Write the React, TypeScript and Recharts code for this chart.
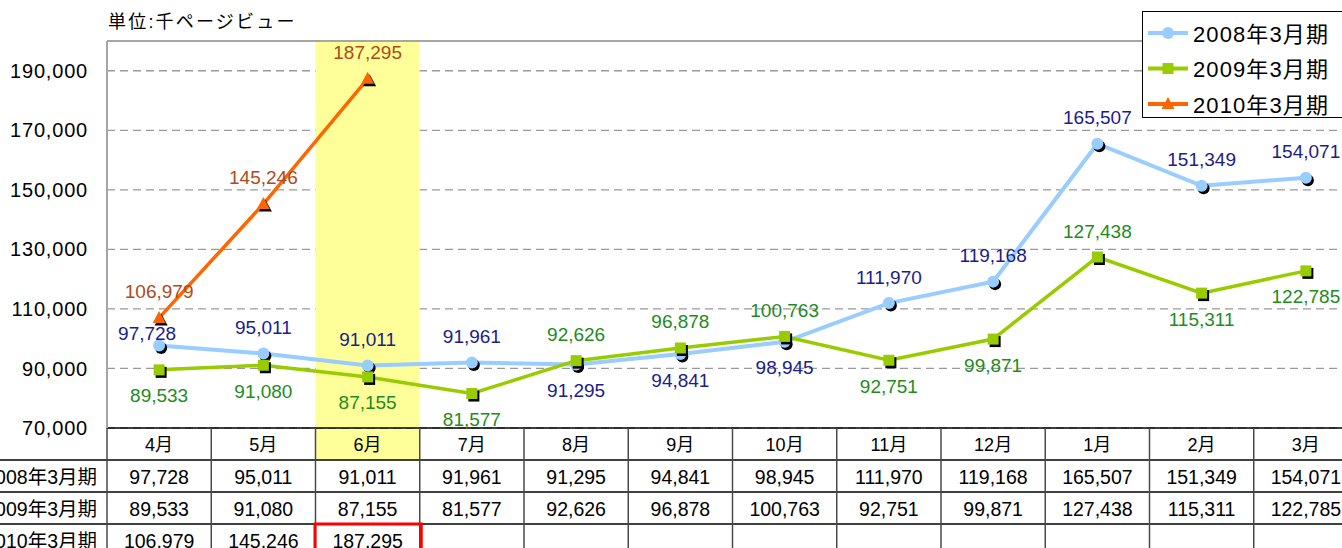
import React from 'react';
import {
  LineChart,
  Line,
  XAxis,
  YAxis,
  CartesianGrid,
  ReferenceArea,
  ReferenceLine,
  LabelList,
  Legend,
} from 'recharts';

// ---------- data ----------
const months = ['4月', '5月', '6月', '7月', '8月', '9月', '10月', '11月', '12月', '1月', '2月', '3月'];
const series2008 = [97728, 95011, 91011, 91961, 91295, 94841, 98945, 111970, 119168, 165507, 151349, 154071];
const series2009 = [89533, 91080, 87155, 81577, 92626, 96878, 100763, 92751, 99871, 127438, 115311, 122785];
const series2010: (number | null)[] = [106979, 145246, 187295, null, null, null, null, null, null, null, null, null];
const seriesNames = ['2008年3月期', '2009年3月期', '2010年3月期'];
const yTicks = [70000, 90000, 110000, 130000, 150000, 170000, 190000];
const yDomain = [70000, 200000];
const highlightMonth = '6月';
const unitTitle = '単位:千ページビュー';

// label placement (above / below point)
const place2008 = ['upLeft', 'up', 'up', 'up', 'down', 'down', 'down', 'up', 'up', 'up', 'up', 'up'];
const place2009 = ['down', 'down', 'down', 'down', 'up', 'up', 'up', 'down', 'down', 'up', 'down', 'down'];
const place2010 = ['up', 'up', 'up'];

// ---------- layout / style ----------
const FONT = "'Liberation Sans', Arial, 'Noto Sans CJK JP', sans-serif";
const CHART_W = 1358;
const CHART_H = 548;
const PLOT_LEFT = 107;
const PLOT_TOP = 41;
const PLOT_BOTTOM = 428;
const BAND = (CHART_W - PLOT_LEFT) / months.length;
const ROW_H = 32;

const C2008 = '#99CCFF';
const C2009 = '#99CC00';
const C2010 = '#FF6600';
const L2008 = '#1C1C8C';
const L2009 = '#1E8C1E';
const L2010 = '#B04A1A';

const fmt = (v: number) => v.toLocaleString('en-US');

const data = months.map((m, i) => ({
  month: m,
  s2008: series2008[i],
  s2009: series2009[i],
  s2010: series2010[i],
}));

const tableRows = [series2008, series2009, series2010];

const TableTick = (props: any) => {
  const { x, payload } = props;
  const i = months.indexOf(payload.value);
  const left = x - BAND / 2;
  const right = x + BAND / 2;
  const top = PLOT_BOTTOM;
  const hi = months.indexOf(highlightMonth);
  return (
    <g>
      {payload.value === highlightMonth && (
        <rect x={left} y={top + 1} width={BAND} height={ROW_H - 1} fill="#FFFF99" />
      )}
      {[1, 2, 3].map((r) => (
        <line
          key={`h${r}`}
          x1={i === 0 ? 0 : left}
          x2={right}
          y1={top + r * ROW_H}
          y2={top + r * ROW_H}
          stroke="#000"
          strokeWidth={1.5}
        />
      ))}
      <line x1={left} x2={left} y1={top} y2={top + 5 * ROW_H} stroke="#4a4a4a" strokeWidth={1.5} />
      <text
        x={x}
        y={top + ROW_H / 2 + 1}
        textAnchor="middle"
        dominantBaseline="central"
        fontSize={18}
        fontFamily={FONT}
        fill="#000"
      >
        {payload.value}
      </text>
      {tableRows.map((row, r) =>
        row[i] != null ? (
          <text
            key={`v${r}`}
            x={x}
            y={top + ROW_H * (r + 1) + ROW_H / 2 + 1}
            textAnchor="middle"
            dominantBaseline="central"
            fontSize={19.5}
            fontFamily={FONT}
            fill="#000"
          >
            {fmt(row[i] as number)}
          </text>
        ) : null
      )}
      {i === 0 &&
        seriesNames.map((n, r) => (
          <text
            key={`n${r}`}
            x={left - 10}
            y={top + ROW_H * (r + 1) + ROW_H / 2 + 1}
            textAnchor="end"
            dominantBaseline="central"
            fontSize={19.5}
            fontFamily={FONT}
            fill="#000"
          >
            {n}
          </text>
        ))}
      {i === months.length - 1 && (
        <rect
          x={left - (i - hi) * BAND - 0.5}
          y={top + 3 * ROW_H}
          width={BAND + 2}
          height={ROW_H + 10}
          fill="none"
          stroke="#FF0000"
          strokeWidth={3}
        />
      )}
    </g>
  );
};

const makeLabel = (place: string[], color: string) => (props: any) => {
  const { x, y, value, index } = props;
  if (value == null || x == null || y == null) return null;
  const p = place[index] || 'up';
  const dy = p === 'down' ? 26 : p === 'upLeft' ? -12 : -26;
  const dx = p === 'upLeft' ? -12 : 0;
  return (
    <text
      x={x + dx}
      y={y + dy}
      textAnchor="middle"
      dominantBaseline="central"
      fill={color}
      fontSize={19}
      fontFamily={FONT}
    >
      {fmt(value)}
    </text>
  );
};

const CircleDot = (props: any) => {
  const { cx, cy, index } = props;
  if (cx == null || cy == null) return <g key={`c${index}`} />;
  return (
    <g key={`c${index}`}>
      <circle cx={cx + 2} cy={cy + 2.5} r={6} fill="#000" />
      <circle cx={cx} cy={cy} r={6} fill={C2008} />
    </g>
  );
};

const SquareDot = (props: any) => {
  const { cx, cy, index } = props;
  if (cx == null || cy == null) return <g key={`s${index}`} />;
  return (
    <g key={`s${index}`}>
      <rect x={cx - 5.5 + 2} y={cy - 5.5 + 2.5} width={11} height={11} fill="#000" />
      <rect x={cx - 5.5} y={cy - 5.5} width={11} height={11} fill={C2009} />
    </g>
  );
};

const tri = (cx: number, cy: number) => `${cx},${cy - 7} ${cx + 6.5},${cy + 5} ${cx - 6.5},${cy + 5}`;

const TriangleDot = (props: any) => {
  const { cx, cy, index } = props;
  if (cx == null || cy == null) return <g key={`t${index}`} />;
  return (
    <g key={`t${index}`}>
      <polygon points={tri(cx + 2, cy + 2.5)} fill="#000" />
      <polygon points={tri(cx, cy)} fill={C2010} />
    </g>
  );
};

const legendMarkers = [
  (cx: number, cy: number) => <circle cx={cx} cy={cy} r={6} fill={C2008} />,
  (cx: number, cy: number) => <rect x={cx - 5.5} y={cy - 5.5} width={11} height={11} fill={C2009} />,
  (cx: number, cy: number) => <polygon points={tri(cx, cy)} fill={C2010} />,
];
const legendColors = [C2008, C2009, C2010];

const renderLegend = () => (
  <div
    style={{
      width: 230,
      height: 107,
      border: '1.5px solid #000',
      background: '#fff',
      boxSizing: 'border-box',
    }}
  >
    <svg width={230} height={104} style={{ display: 'block' }}>
      {seriesNames.map((n, i) => {
        const cy = 21 + i * 35.5;
        return (
          <g key={n}>
            <line x1={5} x2={45} y1={cy} y2={cy} stroke={legendColors[i]} strokeWidth={4} />
            {legendMarkers[i](25, cy)}
            <text
              x={50}
              y={cy + 1}
              dominantBaseline="central"
              fontSize={22}
              letterSpacing={1.1}
              fontFamily={FONT}
              fill="#000"
            >
              {n}
            </text>
          </g>
        );
      })}
    </svg>
  </div>
);

export default function App() {
  return (
    <div
      style={{
        position: 'absolute',
        left: 0,
        top: 0,
        width: 1342,
        height: 548,
        overflow: 'hidden',
        background: '#fff',
        fontFamily: FONT,
      }}
    >
      <div
        style={{
          position: 'absolute',
          left: 108,
          top: 10,
          fontSize: 18,
          letterSpacing: 2.2,
          lineHeight: '24px',
          color: '#000',
          zIndex: 2,
        }}
      >
        {unitTitle}
      </div>
      <LineChart
        width={CHART_W}
        height={CHART_H}
        data={data}
        margin={{ top: PLOT_TOP, right: 0, bottom: 0, left: 0 }}
      >
        <ReferenceArea x1={highlightMonth} x2={highlightMonth} fill="#FFFF99" fillOpacity={1} stroke="none" />
        <CartesianGrid horizontal vertical={false} stroke="#9a9a9a" strokeDasharray="8 5" strokeWidth={1.3} />
        <ReferenceLine y={yDomain[1]} stroke="#A6A6A6" strokeWidth={2} />
        <XAxis
          dataKey="month"
          scale="band"
          interval={0}
          tickSize={0}
          tickMargin={0}
          height={CHART_H - PLOT_BOTTOM}
          tick={<TableTick />}
          axisLine={{ stroke: '#000', strokeWidth: 1.5 }}
          tickLine={false}
        />
        <YAxis
          width={PLOT_LEFT}
          domain={yDomain}
          ticks={yTicks}
          allowDataOverflow
          tickFormatter={fmt}
          tickSize={0}
          tickMargin={19}
          tickLine={false}
          axisLine={{ stroke: '#A6A6A6', strokeWidth: 2 }}
          tick={{ fill: '#000', fontSize: 20, fontFamily: FONT, letterSpacing: 0.8 }}
        />
        <Legend
          layout="vertical"
          align="center"
          verticalAlign="middle"
          content={renderLegend}
          wrapperStyle={{ position: 'absolute', left: 1142, top: 11, width: 230, height: 107 }}
        />
        <Line
          dataKey="s2008"
          name={seriesNames[0]}
          stroke={C2008}
          strokeWidth={4}
          dot={CircleDot}
          activeDot={false}
          isAnimationActive={false}
        >
          <LabelList dataKey="s2008" content={makeLabel(place2008, L2008)} />
        </Line>
        <Line
          dataKey="s2009"
          name={seriesNames[1]}
          stroke={C2009}
          strokeWidth={3.5}
          dot={SquareDot}
          activeDot={false}
          isAnimationActive={false}
        >
          <LabelList dataKey="s2009" content={makeLabel(place2009, L2009)} />
        </Line>
        <Line
          dataKey="s2010"
          name={seriesNames[2]}
          stroke={C2010}
          strokeWidth={3.5}
          dot={TriangleDot}
          activeDot={false}
          isAnimationActive={false}
        >
          <LabelList dataKey="s2010" content={makeLabel(place2010, L2010)} />
        </Line>
      </LineChart>
    </div>
  );
}
